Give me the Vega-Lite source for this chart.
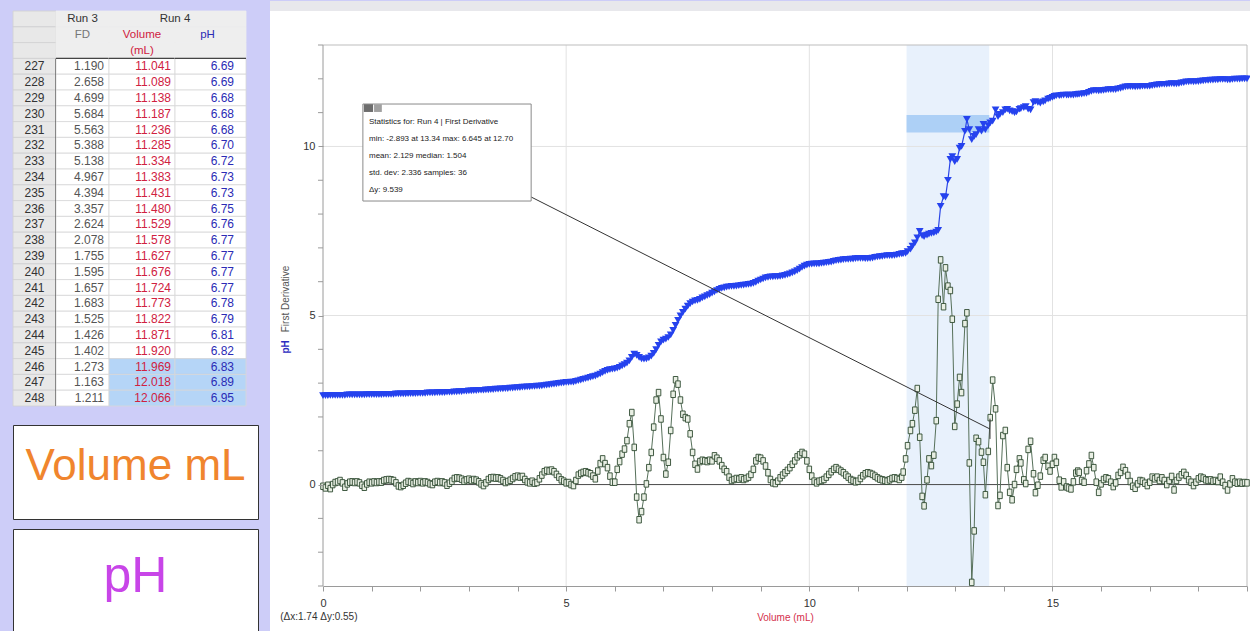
{
"$schema":"https://vega.github.io/schema/vega-lite/v6.json",
"background":"#cdcdf8",
"padding":{"left":12,"top":0,"right":0,"bottom":0},
"config":{"view":{"stroke":null},"font":"Liberation Sans","axis":{"labelOverlap":false,"labelFlush":false}},
"datasets":{
"tbl":[
{"r":"h1","hfd":"Run 3","hph":"Run 4"},
{"r":"h2a","hfd":"FD","hvol":"Volume","hph":"pH"},
{"r":"h2b","hvol":"(mL)"},
{"r":"227","fd":"1.190","vol":"11.041","ph":"6.69"},
{"r":"228","fd":"2.658","vol":"11.089","ph":"6.69"},
{"r":"229","fd":"4.699","vol":"11.138","ph":"6.68"},
{"r":"230","fd":"5.684","vol":"11.187","ph":"6.68"},
{"r":"231","fd":"5.563","vol":"11.236","ph":"6.68"},
{"r":"232","fd":"5.388","vol":"11.285","ph":"6.70"},
{"r":"233","fd":"5.138","vol":"11.334","ph":"6.72"},
{"r":"234","fd":"4.967","vol":"11.383","ph":"6.73"},
{"r":"235","fd":"4.394","vol":"11.431","ph":"6.73"},
{"r":"236","fd":"3.357","vol":"11.480","ph":"6.75"},
{"r":"237","fd":"2.624","vol":"11.529","ph":"6.76"},
{"r":"238","fd":"2.078","vol":"11.578","ph":"6.77"},
{"r":"239","fd":"1.755","vol":"11.627","ph":"6.77"},
{"r":"240","fd":"1.595","vol":"11.676","ph":"6.77"},
{"r":"241","fd":"1.657","vol":"11.724","ph":"6.77"},
{"r":"242","fd":"1.683","vol":"11.773","ph":"6.78"},
{"r":"243","fd":"1.525","vol":"11.822","ph":"6.79"},
{"r":"244","fd":"1.426","vol":"11.871","ph":"6.81"},
{"r":"245","fd":"1.402","vol":"11.920","ph":"6.82"},
{"r":"246","fd":"1.273","vol":"11.969","ph":"6.83"},
{"r":"247","fd":"1.163","vol":"12.018","ph":"6.89"},
{"r":"248","fd":"1.211","vol":"12.066","ph":"6.95"}
],
"run":[
{"v":0,"p":2.63,"d":-0.05},{"v":0.05,"p":2.63,"d":-0.1},{"v":0.1,"p":2.63,"d":-0.02},{"v":0.15,"p":2.64,"d":-0.12},{"v":0.2,"p":2.64,"d":0},
{"v":0.25,"p":2.64,"d":0.06},{"v":0.3,"p":2.64,"d":0.08},{"v":0.35,"p":2.64,"d":0.12},{"v":0.4,"p":2.64,"d":0.05},{"v":0.45,"p":2.64,"d":-0.08},
{"v":0.5,"p":2.65,"d":0.02},{"v":0.55,"p":2.65,"d":0.07},{"v":0.6,"p":2.65,"d":0.08},{"v":0.65,"p":2.65,"d":0.06},{"v":0.7,"p":2.65,"d":0.08},
{"v":0.75,"p":2.65,"d":0.05},{"v":0.8,"p":2.65,"d":-0.02},{"v":0.85,"p":2.65,"d":-0.08},{"v":0.9,"p":2.66,"d":0.02},{"v":0.95,"p":2.66,"d":0.07},
{"v":1,"p":2.66,"d":0.05},{"v":1.05,"p":2.66,"d":0.08},{"v":1.1,"p":2.66,"d":0.06},{"v":1.15,"p":2.66,"d":0.08},{"v":1.2,"p":2.66,"d":0.07},
{"v":1.25,"p":2.67,"d":0.12},{"v":1.3,"p":2.67,"d":0.14},{"v":1.35,"p":2.67,"d":0.15},{"v":1.4,"p":2.67,"d":0.14},{"v":1.45,"p":2.67,"d":0.12},
{"v":1.5,"p":2.68,"d":0.05},{"v":1.55,"p":2.68,"d":-0.04},{"v":1.6,"p":2.68,"d":-0.06},{"v":1.65,"p":2.68,"d":-0.02},{"v":1.7,"p":2.68,"d":0.04},
{"v":1.75,"p":2.69,"d":0.09},{"v":1.8,"p":2.69,"d":0.07},{"v":1.85,"p":2.69,"d":0.03},{"v":1.9,"p":2.69,"d":0.08},{"v":1.95,"p":2.7,"d":0.06},
{"v":2,"p":2.7,"d":0.09},{"v":2.05,"p":2.7,"d":0.05},{"v":2.1,"p":2.7,"d":0.08},{"v":2.15,"p":2.71,"d":0.06},{"v":2.2,"p":2.71,"d":0.02},
{"v":2.25,"p":2.71,"d":0},{"v":2.3,"p":2.71,"d":0.07},{"v":2.35,"p":2.72,"d":0.09},{"v":2.4,"p":2.72,"d":0.06},{"v":2.45,"p":2.72,"d":0.08},
{"v":2.5,"p":2.72,"d":0.05},{"v":2.55,"p":2.73,"d":-0.02},{"v":2.6,"p":2.73,"d":0.04},{"v":2.65,"p":2.73,"d":0.1},{"v":2.7,"p":2.74,"d":0.18},
{"v":2.75,"p":2.74,"d":0.2},{"v":2.8,"p":2.75,"d":0.19},{"v":2.85,"p":2.75,"d":0.16},{"v":2.9,"p":2.76,"d":0.1},{"v":2.95,"p":2.76,"d":0.14},
{"v":3,"p":2.77,"d":0.16},{"v":3.05,"p":2.77,"d":0.12},{"v":3.1,"p":2.78,"d":0.15},{"v":3.15,"p":2.78,"d":0.13},{"v":3.2,"p":2.79,"d":0.08},
{"v":3.25,"p":2.79,"d":0.02},{"v":3.3,"p":2.79,"d":-0.03},{"v":3.35,"p":2.8,"d":0.05},{"v":3.4,"p":2.8,"d":0.15},{"v":3.45,"p":2.81,"d":0.2},
{"v":3.5,"p":2.81,"d":0.21},{"v":3.55,"p":2.82,"d":0.19},{"v":3.6,"p":2.82,"d":0.2},{"v":3.65,"p":2.83,"d":0.17},{"v":3.7,"p":2.83,"d":0.12},
{"v":3.75,"p":2.84,"d":0.06},{"v":3.8,"p":2.84,"d":0.09},{"v":3.85,"p":2.85,"d":0.13},{"v":3.9,"p":2.85,"d":0.18},{"v":3.95,"p":2.86,"d":0.23},
{"v":4,"p":2.87,"d":0.25},{"v":4.05,"p":2.87,"d":0.22},{"v":4.1,"p":2.88,"d":0.24},{"v":4.15,"p":2.88,"d":0.15},{"v":4.2,"p":2.89,"d":0.08},
{"v":4.25,"p":2.89,"d":0.05},{"v":4.3,"p":2.9,"d":0.1},{"v":4.35,"p":2.9,"d":0.04},{"v":4.4,"p":2.91,"d":0.06},{"v":4.45,"p":2.91,"d":0.17},
{"v":4.5,"p":2.92,"d":0.28},{"v":4.55,"p":2.93,"d":0.38},{"v":4.6,"p":2.94,"d":0.42},{"v":4.65,"p":2.95,"d":0.4},{"v":4.7,"p":2.96,"d":0.43},
{"v":4.75,"p":2.97,"d":0.38},{"v":4.8,"p":2.98,"d":0.3},{"v":4.85,"p":2.99,"d":0.22},{"v":4.9,"p":3,"d":0.14},{"v":4.95,"p":3.01,"d":0.1},
{"v":5,"p":3.02,"d":0.05},{"v":5.05,"p":3.02,"d":0.06},{"v":5.1,"p":3.03,"d":0},{"v":5.15,"p":3.03,"d":-0.03},{"v":5.2,"p":3.05,"d":0.12},
{"v":5.25,"p":3.07,"d":0.28},{"v":5.3,"p":3.09,"d":0.33},{"v":5.35,"p":3.11,"d":0.36},{"v":5.4,"p":3.13,"d":0.38},{"v":5.45,"p":3.15,"d":0.35},
{"v":5.5,"p":3.17,"d":0.32},{"v":5.55,"p":3.19,"d":0.25},{"v":5.6,"p":3.21,"d":0.17},{"v":5.65,"p":3.24,"d":0.4},{"v":5.7,"p":3.27,"d":0.62},
{"v":5.75,"p":3.31,"d":0.76},{"v":5.8,"p":3.35,"d":0.62},{"v":5.85,"p":3.38,"d":0.5},{"v":5.9,"p":3.4,"d":0.25},{"v":5.95,"p":3.41,"d":0.07},
{"v":6,"p":3.42,"d":0.07},{"v":6.05,"p":3.44,"d":0.45},{"v":6.1,"p":3.47,"d":0.68},{"v":6.15,"p":3.51,"d":0.9},{"v":6.2,"p":3.55,"d":1.05},
{"v":6.25,"p":3.59,"d":1.3},{"v":6.3,"p":3.66,"d":1.8},{"v":6.35,"p":3.76,"d":2.13},{"v":6.4,"p":3.86,"d":1.1},{"v":6.45,"p":3.82,"d":-0.37},
{"v":6.5,"p":3.76,"d":-1.04},{"v":6.55,"p":3.72,"d":-0.8},{"v":6.6,"p":3.71,"d":-0.37},{"v":6.65,"p":3.72,"d":0.02},{"v":6.7,"p":3.75,"d":0.5},
{"v":6.75,"p":3.8,"d":0.95},{"v":6.8,"p":3.88,"d":1.7},{"v":6.85,"p":3.99,"d":2.5},{"v":6.9,"p":4.12,"d":2.72},{"v":6.95,"p":4.22,"d":1.94},
{"v":7,"p":4.27,"d":0.8},{"v":7.05,"p":4.3,"d":0.31},{"v":7.1,"p":4.35,"d":0.66},{"v":7.15,"p":4.43,"d":1.6},{"v":7.2,"p":4.56,"d":2.67},
{"v":7.25,"p":4.71,"d":3.1},{"v":7.3,"p":4.86,"d":2.97},{"v":7.35,"p":4.99,"d":2.5},{"v":7.4,"p":5.09,"d":2.08},{"v":7.45,"p":5.19,"d":1.98},
{"v":7.5,"p":5.28,"d":1.94},{"v":7.55,"p":5.35,"d":1.5},{"v":7.6,"p":5.4,"d":0.95},{"v":7.65,"p":5.43,"d":0.6},{"v":7.7,"p":5.45,"d":0.46},
{"v":7.75,"p":5.48,"d":0.68},{"v":7.8,"p":5.52,"d":0.72},{"v":7.85,"p":5.55,"d":0.7},{"v":7.9,"p":5.59,"d":0.68},{"v":7.95,"p":5.62,"d":0.72},
{"v":8,"p":5.66,"d":0.7},{"v":8.05,"p":5.7,"d":0.85},{"v":8.1,"p":5.74,"d":0.78},{"v":8.15,"p":5.77,"d":0.7},{"v":8.2,"p":5.8,"d":0.56},
{"v":8.25,"p":5.82,"d":0.45},{"v":8.3,"p":5.84,"d":0.38},{"v":8.35,"p":5.85,"d":0.22},{"v":8.4,"p":5.86,"d":0.12},{"v":8.45,"p":5.86,"d":0.15},
{"v":8.5,"p":5.87,"d":0.18},{"v":8.55,"p":5.88,"d":0.16},{"v":8.6,"p":5.89,"d":0.2},{"v":8.65,"p":5.9,"d":0.15},{"v":8.7,"p":5.91,"d":0.18},
{"v":8.75,"p":5.92,"d":0.22},{"v":8.8,"p":5.93,"d":0.3},{"v":8.85,"p":5.95,"d":0.45},{"v":8.9,"p":5.98,"d":0.7},{"v":8.95,"p":6.02,"d":0.8},
{"v":9,"p":6.05,"d":0.78},{"v":9.05,"p":6.08,"d":0.7},{"v":9.1,"p":6.11,"d":0.55},{"v":9.15,"p":6.13,"d":0.35},{"v":9.2,"p":6.14,"d":0.15},
{"v":9.25,"p":6.14,"d":0.05},{"v":9.3,"p":6.15,"d":0.03},{"v":9.35,"p":6.15,"d":0.1},{"v":9.4,"p":6.16,"d":0.2},{"v":9.45,"p":6.17,"d":0.28},
{"v":9.5,"p":6.19,"d":0.35},{"v":9.55,"p":6.21,"d":0.42},{"v":9.6,"p":6.23,"d":0.5},{"v":9.65,"p":6.26,"d":0.6},{"v":9.7,"p":6.29,"d":0.7},
{"v":9.75,"p":6.33,"d":0.82},{"v":9.8,"p":6.37,"d":0.88},{"v":9.85,"p":6.42,"d":0.95},{"v":9.9,"p":6.46,"d":0.9},{"v":9.95,"p":6.49,"d":0.7},
{"v":10,"p":6.51,"d":0.45},{"v":10.05,"p":6.52,"d":0.25},{"v":10.1,"p":6.53,"d":0.1},{"v":10.15,"p":6.53,"d":0.05},{"v":10.2,"p":6.53,"d":0.1},
{"v":10.25,"p":6.54,"d":0.12},{"v":10.3,"p":6.55,"d":0.15},{"v":10.35,"p":6.56,"d":0.22},{"v":10.4,"p":6.57,"d":0.3},{"v":10.45,"p":6.58,"d":0.38},
{"v":10.5,"p":6.6,"d":0.45},{"v":10.55,"p":6.62,"d":0.5},{"v":10.6,"p":6.63,"d":0.45},{"v":10.65,"p":6.64,"d":0.4},{"v":10.7,"p":6.65,"d":0.35},
{"v":10.75,"p":6.66,"d":0.28},{"v":10.8,"p":6.66,"d":0.22},{"v":10.85,"p":6.67,"d":0.15},{"v":10.9,"p":6.67,"d":0.12},{"v":10.95,"p":6.68,"d":0.08},
{"v":11,"p":6.69,"d":0.1},{"v":11.05,"p":6.69,"d":0.18},{"v":11.1,"p":6.69,"d":0.26},{"v":11.15,"p":6.68,"d":0.32},{"v":11.2,"p":6.68,"d":0.35},
{"v":11.25,"p":6.69,"d":0.33},{"v":11.3,"p":6.7,"d":0.3},{"v":11.35,"p":6.72,"d":0.25},{"v":11.4,"p":6.73,"d":0.2},{"v":11.45,"p":6.74,"d":0.16},
{"v":11.5,"p":6.75,"d":0.14},{"v":11.55,"p":6.76,"d":0.12},{"v":11.6,"p":6.77,"d":0.1},{"v":11.65,"p":6.77,"d":0.14},{"v":11.7,"p":6.77,"d":0.18},
{"v":11.75,"p":6.78,"d":0.2},{"v":11.8,"p":6.79,"d":0.18},{"v":11.85,"p":6.81,"d":0.15},{"v":11.9,"p":6.82,"d":0.22},{"v":11.93,"p":6.83,"d":0.37},
{"v":11.98,"p":6.84,"d":0.76},{"v":12.02,"p":6.89,"d":1.15},{"v":12.08,"p":6.96,"d":1.6},{"v":12.12,"p":7.05,"d":1.8},{"v":12.17,"p":7.15,"d":2.2},
{"v":12.22,"p":7.3,"d":2.84},{"v":12.27,"p":7.49,"d":1.4},{"v":12.32,"p":7.36,"d":-0.35},{"v":12.36,"p":7.33,"d":-0.63},{"v":12.42,"p":7.38,"d":0.14},
{"v":12.46,"p":7.41,"d":0.76},{"v":12.51,"p":7.43,"d":0.56},{"v":12.56,"p":7.44,"d":0.87},{"v":12.61,"p":7.47,"d":1.89},{"v":12.65,"p":7.52,"d":5.48},
{"v":12.7,"p":8.23,"d":6.645},{"v":12.76,"p":8.52,"d":5.26},{"v":12.8,"p":8.5,"d":6.41},{"v":12.85,"p":9,"d":5.87},{"v":12.9,"p":9.62,"d":5.74},
{"v":12.94,"p":9.7,"d":4.89},{"v":12.99,"p":9.55,"d":1.72},{"v":13.04,"p":9.62,"d":2.38},{"v":13.09,"p":9.95,"d":3.17},{"v":13.13,"p":10,"d":2.72},
{"v":13.2,"p":10.45,"d":4.76},{"v":13.24,"p":10.8,"d":5.08},{"v":13.29,"p":10.5,"d":0.64},{"v":13.34,"p":10.2,"d":-2.893},{"v":13.39,"p":10.3,"d":-1.37},
{"v":13.43,"p":10.35,"d":1.37},{"v":13.48,"p":10.5,"d":1.27},{"v":13.54,"p":10.45,"d":0.96},{"v":13.58,"p":10.65,"d":0.66},{"v":13.62,"p":10.5,"d":-0.3},
{"v":13.68,"p":10.62,"d":0.98},{"v":13.72,"p":10.7,"d":1.98},{"v":13.77,"p":10.75,"d":3.09},{"v":13.83,"p":11.08,"d":2.24},{"v":13.88,"p":10.88,"d":-0.62},
{"v":13.92,"p":10.95,"d":-0.32},{"v":13.98,"p":11,"d":1.45},{"v":14.03,"p":11.08,"d":1.6},{"v":14.07,"p":11.1,"d":0.5},{"v":14.12,"p":11.05,"d":-0.23},
{"v":14.17,"p":11.03,"d":-0.45},{"v":14.22,"p":11,"d":0},{"v":14.26,"p":11.02,"d":0.45},{"v":14.32,"p":11.1,"d":0.76},{"v":14.35,"p":11.12,"d":0.64},
{"v":14.41,"p":11.15,"d":0.14},{"v":14.45,"p":11.18,"d":0.03},{"v":14.5,"p":11.1,"d":1.04},{"v":14.55,"p":11.08,"d":1.28},{"v":14.61,"p":11.3,"d":0.32},
{"v":14.65,"p":11.33,"d":-0.24},{"v":14.7,"p":11.3,"d":-0.02},{"v":14.75,"p":11.28,"d":0.25},{"v":14.81,"p":11.32,"d":0.72},{"v":14.85,"p":11.35,"d":0.8},
{"v":14.91,"p":11.4,"d":0.54},{"v":14.95,"p":11.42,"d":0.4},{"v":15,"p":11.45,"d":0.6},{"v":15.04,"p":11.48,"d":0.8},{"v":15.08,"p":11.5,"d":0.66},
{"v":15.14,"p":11.5,"d":0.13},{"v":15.18,"p":11.51,"d":-0.07},{"v":15.23,"p":11.52,"d":0.08},{"v":15.29,"p":11.52,"d":-0.07},{"v":15.33,"p":11.52,"d":-0.1},
{"v":15.38,"p":11.52,"d":-0.13},{"v":15.43,"p":11.52,"d":0.08},{"v":15.48,"p":11.53,"d":0.34},{"v":15.52,"p":11.54,"d":0.4},
{"v":15.55,"p":11.55,"d":0.36},{"v":15.6,"p":11.55,"d":0.12},{"v":15.65,"p":11.56,"d":0.07},{"v":15.7,"p":11.57,"d":0.41},{"v":15.75,"p":11.6,"d":0.61},
{"v":15.8,"p":11.63,"d":0.86},{"v":15.85,"p":11.65,"d":0.5},{"v":15.9,"p":11.65,"d":0.07},{"v":15.95,"p":11.64,"d":-0.23},{"v":16,"p":11.65,"d":0.02},
{"v":16.05,"p":11.66,"d":0.15},{"v":16.1,"p":11.67,"d":0.2},{"v":16.15,"p":11.68,"d":0.17},{"v":16.2,"p":11.68,"d":0.07},{"v":16.25,"p":11.68,"d":-0.06},
{"v":16.3,"p":11.68,"d":0.05},{"v":16.35,"p":11.7,"d":0.27},{"v":16.4,"p":11.72,"d":0.36},{"v":16.45,"p":11.74,"d":0.51},{"v":16.5,"p":11.76,"d":0.41},
{"v":16.55,"p":11.77,"d":0.27},{"v":16.6,"p":11.77,"d":0.09},{"v":16.65,"p":11.77,"d":-0.05},{"v":16.7,"p":11.76,"d":-0.11},{"v":16.75,"p":11.77,"d":0.02},
{"v":16.8,"p":11.77,"d":0.12},{"v":16.85,"p":11.78,"d":0.1},{"v":16.9,"p":11.78,"d":0.04},{"v":16.95,"p":11.78,"d":-0.03},{"v":17,"p":11.78,"d":0.07},
{"v":17.05,"p":11.8,"d":0.22},{"v":17.1,"p":11.81,"d":0.17},{"v":17.15,"p":11.82,"d":0.22},{"v":17.2,"p":11.83,"d":0.12},{"v":17.25,"p":11.84,"d":0.2},
{"v":17.3,"p":11.84,"d":0.12},{"v":17.35,"p":11.84,"d":0},{"v":17.4,"p":11.85,"d":0.12},{"v":17.45,"p":11.86,"d":0.24},{"v":17.5,"p":11.85,"d":-0.16},
{"v":17.55,"p":11.85,"d":0.12},{"v":17.6,"p":11.86,"d":0.22},{"v":17.65,"p":11.88,"d":0.29},{"v":17.7,"p":11.89,"d":0.36},{"v":17.75,"p":11.91,"d":0.27},
{"v":17.8,"p":11.91,"d":0.14},{"v":17.85,"p":11.92,"d":0.07},{"v":17.9,"p":11.91,"d":-0.03},{"v":17.95,"p":11.92,"d":0.07},{"v":18,"p":11.92,"d":0.17},
{"v":18.05,"p":11.93,"d":0.22},{"v":18.1,"p":11.94,"d":0.19},{"v":18.15,"p":11.95,"d":0.14},{"v":18.2,"p":11.95,"d":0.12},{"v":18.25,"p":11.96,"d":0.14},
{"v":18.3,"p":11.96,"d":0.1},{"v":18.35,"p":11.97,"d":0.12},{"v":18.4,"p":11.97,"d":0.09},{"v":18.45,"p":11.98,"d":0.22},{"v":18.5,"p":11.98,"d":0.07},
{"v":18.55,"p":11.98,"d":-0.03},{"v":18.6,"p":11.97,"d":-0.16},{"v":18.65,"p":11.97,"d":0.02},{"v":18.7,"p":11.98,"d":0.17},{"v":18.75,"p":11.99,"d":0.07},
{"v":18.8,"p":11.99,"d":0.04},{"v":18.85,"p":11.99,"d":0.07},{"v":18.9,"p":12,"d":0.04},{"v":18.95,"p":12,"d":0.06},{"v":19,"p":12,"d":0.05}
]
},
"spacing":10,
"hconcat":[
{"spacing":17,"vconcat":[
 {"spacing":0,"bounds":"flush","hconcat":[
  {"width":43,"height":395,"data":{"name":"tbl"},
   "encoding":{"y":{"field":"r","type":"nominal","scale":{"domain":["h1","h2a","h2b","227","228","229","230","231","232","233","234","235","236","237","238","239","240","241","242","243","244","245","246","247","248"],"paddingInner":0,"paddingOuter":0},"axis":null}},
   "layer":[
    {"mark":{"type":"rect","fill":"#e8e8e8","stroke":"#d0d0d0","strokeWidth":0.8}},
    {"transform":[{"filter":"isValid(datum.fd)"}],"mark":{"type":"text","fontSize":12,"color":"#333333"},"encoding":{"text":{"field":"r","type":"nominal"}}},
    {"transform":[{"filter":"datum.r === '227'"}],"mark":{"type":"rule","color":"#222222","strokeWidth":1.5},"encoding":{"x":{"value":"width"},"y":{"field":"r","type":"nominal","bandPosition":0},"y2":{"value":"height"}}}
   ]},
  {"width":53,"height":395,"data":{"name":"tbl"},
   "encoding":{"y":{"field":"r","type":"nominal","scale":{"domain":["h1","h2a","h2b","227","228","229","230","231","232","233","234","235","236","237","238","239","240","241","242","243","244","245","246","247","248"],"paddingInner":0,"paddingOuter":0},"axis":null}},
   "layer":[
    {"mark":{"type":"rect","strokeWidth":0.8},"encoding":{"fill":{"condition":{"test":"isValid(datum.fd)","value":"#ffffff"},"value":"#eeeeee"},"stroke":{"condition":{"test":"isValid(datum.fd)","value":"#d8d8d8"},"value":"#eeeeee"}}},
    {"transform":[{"filter":"isValid(datum.fd)"}],"mark":{"type":"text","align":"right","dx":-5,"fontSize":12,"color":"#555555"},"encoding":{"x":{"value":"width"},"text":{"field":"fd","type":"nominal"}}},
    {"transform":[{"filter":"isValid(datum.hfd)"}],"mark":{"type":"text","fontSize":11.5},"encoding":{"text":{"field":"hfd","type":"nominal"},"color":{"condition":{"test":"datum.r === 'h1'","value":"#333333"},"value":"#777777"}}},
    {"transform":[{"filter":"datum.r === '227'"}],"mark":{"type":"rule","color":"#444444","strokeWidth":1.2},"encoding":{"y":{"field":"r","type":"nominal","bandPosition":0}}}
   ]},
  {"width":66,"height":395,"data":{"name":"tbl"},
   "encoding":{"y":{"field":"r","type":"nominal","scale":{"domain":["h1","h2a","h2b","227","228","229","230","231","232","233","234","235","236","237","238","239","240","241","242","243","244","245","246","247","248"],"paddingInner":0,"paddingOuter":0},"axis":null}},
   "layer":[
    {"mark":{"type":"rect","strokeWidth":0.8},"encoding":{"fill":{"condition":[{"test":"isValid(datum.fd) && toNumber(datum.r) >= 246","value":"#b5d5f7"},{"test":"isValid(datum.fd)","value":"#ffffff"}],"value":"#eeeeee"},"stroke":{"condition":{"test":"isValid(datum.fd)","value":"#d8d8d8"},"value":"#eeeeee"}}},
    {"transform":[{"filter":"isValid(datum.fd)"}],"mark":{"type":"text","align":"right","dx":-4,"fontSize":12,"color":"#d0213f"},"encoding":{"x":{"value":"width"},"text":{"field":"vol","type":"nominal"}}},
    {"transform":[{"filter":"isValid(datum.hvol)"}],"mark":{"type":"text","fontSize":11.5,"color":"#d0213f"},"encoding":{"text":{"field":"hvol","type":"nominal"}}},
    {"transform":[{"filter":"datum.r === '227'"}],"mark":{"type":"rule","color":"#444444","strokeWidth":1.2},"encoding":{"y":{"field":"r","type":"nominal","bandPosition":0}}}
   ]},
  {"width":71,"height":395,"data":{"name":"tbl"},
   "encoding":{"y":{"field":"r","type":"nominal","scale":{"domain":["h1","h2a","h2b","227","228","229","230","231","232","233","234","235","236","237","238","239","240","241","242","243","244","245","246","247","248"],"paddingInner":0,"paddingOuter":0},"axis":null}},
   "layer":[
    {"mark":{"type":"rect","strokeWidth":0.8},"encoding":{"fill":{"condition":[{"test":"isValid(datum.fd) && toNumber(datum.r) >= 246","value":"#b5d5f7"},{"test":"isValid(datum.fd)","value":"#ffffff"}],"value":"#eeeeee"},"stroke":{"condition":{"test":"isValid(datum.fd)","value":"#d8d8d8"},"value":"#eeeeee"}}},
    {"transform":[{"filter":"isValid(datum.fd)"}],"mark":{"type":"text","align":"right","dx":-12,"fontSize":12,"color":"#2b2bb5"},"encoding":{"x":{"value":"width"},"text":{"field":"ph","type":"nominal"}}},
    {"transform":[{"filter":"datum.r === 'h2a'"}],"mark":{"type":"text","fontSize":11.5,"color":"#2b2bb5","dx":-3},"encoding":{"text":{"field":"hph","type":"nominal"}}},
    {"transform":[{"filter":"datum.r === 'h1'"}],"mark":{"type":"text","fontSize":11.5,"color":"#333333","dx":-35.5},"encoding":{"text":{"field":"hph","type":"nominal"}}},
    {"transform":[{"filter":"datum.r === '227'"}],"mark":{"type":"rule","color":"#444444","strokeWidth":1.2},"encoding":{"y":{"field":"r","type":"nominal","bandPosition":0}}}
   ]}
 ]},
 {"spacing":8,"vconcat":[
  {"width":245,"height":94,"view":{"fill":"white","stroke":"#333333","strokeWidth":1},"data":{"values":[{"label":"Volume mL"}]},
   "mark":{"type":"text","fontSize":44,"color":"#f0852e","dy":-5},"encoding":{"text":{"field":"label","type":"nominal"}}},
  {"width":245,"height":103,"view":{"fill":"white","stroke":"#333333","strokeWidth":1},"data":{"values":[{"label":"pH"}]},
   "mark":{"type":"text","fontSize":50,"color":"#c845e8","dy":-4},"encoding":{"text":{"field":"label","type":"nominal"}}}
 ]}
]},
{"width":924,"height":575,"data":{"name":"run"},
 "layer":[
  {"data":{"values":[{}]},"mark":{"type":"rect","fill":"#ffffff"},
   "encoding":{
    "x":{"datum":-1.09,"type":"quantitative","scale":{"domain":[0,19],"nice":false,"zero":false},
      "axis":{"values":[0,1,2,3,4,5,6,7,8,9,10,11,12,13,14,15,16,17,18,19],"labelExpr":"datum.value % 5 === 0 ? datum.label : ''","grid":false,"tickSize":5,"tickColor":"#9a9a9a","domainColor":"#9a9a9a","labelFontSize":11,"labelColor":"#333333","labelPadding":6,"labelOverlap":false,"labelFlush":false,"title":"Volume (mL)","titleColor":"#d42f4c","titleFontSize":10,"titleFontWeight":"normal","titlePadding":4,"zindex":1}},
    "x2":{"datum":19.08},
    "y":{"datum":14.006,"type":"quantitative","scale":{"domain":[-3,14.006],"nice":false,"zero":false},
      "axis":{"values":[0,5,10],"grid":false,"domain":false,"tickSize":5,"tickColor":"#9a9a9a","labelFontSize":11,"labelColor":"#333333","labelPadding":3,"labelOverlap":false,"labelFlush":false,"title":null,"zindex":1}},
    "y2":{"datum":-4.36}}},
  {"data":{"values":[{}]},"mark":{"type":"rect","fill":"#e8e8ec"},
   "encoding":{"x":{"datum":-1.09},"x2":{"datum":19.08},"y":{"datum":14.302},"y2":{"datum":14.006}}},
  {"data":{"values":[{}]},"mark":{"type":"rect","fill":"#e8f1fc"},
   "encoding":{"x":{"datum":12.0},"x2":{"datum":13.7},"y":{"datum":-3},"y2":{"datum":13}}},
  {"data":{"values":[{"g":5},{"g":10},{"g":15}]},"mark":{"type":"rule","color":"#e2e2e2","strokeWidth":1},
   "encoding":{"x":{"field":"g","type":"quantitative","title":"Volume (mL)"},"y":{"datum":-3},"y2":{"datum":13}}},
  {"data":{"values":[{"g":5},{"g":10}]},"mark":{"type":"rule","color":"#e2e2e2","strokeWidth":1},
   "encoding":{"y":{"field":"g","type":"quantitative","title":null}}},
  {"data":{"values":[{"g":-3},{"g":-2},{"g":-1},{"g":1},{"g":2},{"g":3},{"g":4},{"g":6},{"g":7},{"g":8},{"g":9},{"g":11},{"g":12},{"g":13}]},"mark":{"type":"rule","color":"#9a9a9a","strokeWidth":1},
   "encoding":{"y":{"field":"g","type":"quantitative","title":null},"x":{"datum":-0.103},"x2":{"datum":0}}},
  {"data":{"values":[{}]},"mark":{"type":"rule","color":"#bdbdbd","strokeWidth":1},"encoding":{"y":{"datum":13}}},
  {"data":{"values":[{}]},"mark":{"type":"rule","color":"#bdbdbd","strokeWidth":1},"encoding":{"x":{"datum":19},"y":{"datum":-3},"y2":{"datum":13}}},
  {"data":{"values":[{}]},"mark":{"type":"rule","color":"#9a9a9a","strokeWidth":1},"encoding":{"x":{"datum":0},"y":{"datum":-3},"y2":{"datum":13}}},
  {"data":{"values":[{}]},"mark":{"type":"rule","color":"#4a4a4a","strokeWidth":1},"encoding":{"y":{"datum":0}}},
  {"data":{"values":[{}]},"mark":{"type":"rect","fill":"#add0f6"},
   "encoding":{"x":{"datum":12.0},"x2":{"datum":13.7},"y":{"datum":10.93},"y2":{"datum":10.41}}},
  {"mark":{"type":"line","color":"#56705a","strokeWidth":1},
   "encoding":{"x":{"field":"v","type":"quantitative","title":"Volume (mL)"},"y":{"field":"d","type":"quantitative","title":null}}},
  {"mark":{"type":"point","shape":"M-0.7,-1H0.7V1H-0.7Z","size":42,"filled":true,"fill":"#e9efe4","stroke":"#2e4a30","strokeWidth":0.9,"opacity":1},
   "encoding":{"x":{"field":"v","type":"quantitative","title":"Volume (mL)"},"y":{"field":"d","type":"quantitative","title":null}}},
  {"mark":{"type":"line","color":"#2a45e6","strokeWidth":1.2},
   "encoding":{"x":{"field":"v","type":"quantitative","title":"Volume (mL)"},"y":{"field":"p","type":"quantitative","title":null}}},
  {"mark":{"type":"point","shape":"triangle-down","size":60,"filled":true,"color":"#2542ee","opacity":1},
   "encoding":{"x":{"field":"v","type":"quantitative","title":"Volume (mL)"},"y":{"field":"p","type":"quantitative","title":null}}},
  {"data":{"values":[{}]},"mark":{"type":"rule","color":"#333333","strokeWidth":1},
   "encoding":{"x":{"datum":4.28},"y":{"datum":8.505},"x2":{"datum":13.715},"y2":{"datum":1.643}}},
  {"data":{"values":[{}]},"mark":{"type":"rule","color":"#333333","strokeWidth":1},
   "encoding":{"x":{"datum":13.715},"y":{"datum":1.35},"y2":{"datum":1.95}}},
  {"data":{"values":[{}]},"mark":{"type":"rect","fill":"#ffffff","stroke":"#8a8a8a","strokeWidth":1},
   "encoding":{"x":{"datum":0.82},"x2":{"datum":4.28},"y":{"datum":11.255},"y2":{"datum":8.386}}},
  {"data":{"values":[{}]},"mark":{"type":"rect","fill":"#6d6d6d"},
   "encoding":{"x":{"datum":0.84},"x2":{"datum":1.03},"y":{"datum":11.25},"y2":{"datum":11.02}}},
  {"data":{"values":[{}]},"mark":{"type":"rect","fill":"#a0a0a0"},
   "encoding":{"x":{"datum":1.05},"x2":{"datum":1.21},"y":{"datum":11.25},"y2":{"datum":11.02}}},
  {"data":{"values":[{"t":"Statistics for: Run 4 | First Derivative"}]},"mark":{"type":"text","align":"left","baseline":"middle","fontSize":8,"color":"#222222"},
   "encoding":{"x":{"datum":0.946},"y":{"datum":10.72},"text":{"field":"t","type":"nominal"}}},
  {"data":{"values":[{"t":"min: -2.893 at 13.34 max: 6.645 at 12.70"}]},"mark":{"type":"text","align":"left","baseline":"middle","fontSize":8,"color":"#222222"},
   "encoding":{"x":{"datum":0.946},"y":{"datum":10.22},"text":{"field":"t","type":"nominal"}}},
  {"data":{"values":[{"t":"mean: 2.129 median: 1.504"}]},"mark":{"type":"text","align":"left","baseline":"middle","fontSize":8,"color":"#222222"},
   "encoding":{"x":{"datum":0.946},"y":{"datum":9.72},"text":{"field":"t","type":"nominal"}}},
  {"data":{"values":[{"t":"std. dev: 2.336 samples: 36"}]},"mark":{"type":"text","align":"left","baseline":"middle","fontSize":8,"color":"#222222"},
   "encoding":{"x":{"datum":0.946},"y":{"datum":9.21},"text":{"field":"t","type":"nominal"}}},
  {"data":{"values":[{"t":"Δy: 9.539"}]},"mark":{"type":"text","align":"left","baseline":"middle","fontSize":8,"color":"#222222"},
   "encoding":{"x":{"datum":0.946},"y":{"datum":8.71},"text":{"field":"t","type":"nominal"}}},
  {"data":{"values":[{"t":"First Derivative"}]},"mark":{"type":"text","angle":270,"align":"center","baseline":"middle","fontSize":10,"color":"#555555"},
   "encoding":{"x":{"datum":-0.76},"y":{"datum":5.49},"text":{"field":"t","type":"nominal"}}},
  {"data":{"values":[{"t":"pH"}]},"mark":{"type":"text","angle":270,"align":"center","baseline":"middle","fontSize":10,"fontWeight":"bold","color":"#2b2bc0"},
   "encoding":{"x":{"datum":-0.76},"y":{"datum":4.07},"text":{"field":"t","type":"nominal"}}},
  {"data":{"values":[{"t":"(Δx:1.74 Δy:0.55)"}]},"mark":{"type":"text","align":"left","baseline":"middle","fontSize":10,"color":"#333333"},
   "encoding":{"x":{"datum":-0.88},"y":{"datum":-3.92},"text":{"field":"t","type":"nominal"}}}
 ]}
]
}
